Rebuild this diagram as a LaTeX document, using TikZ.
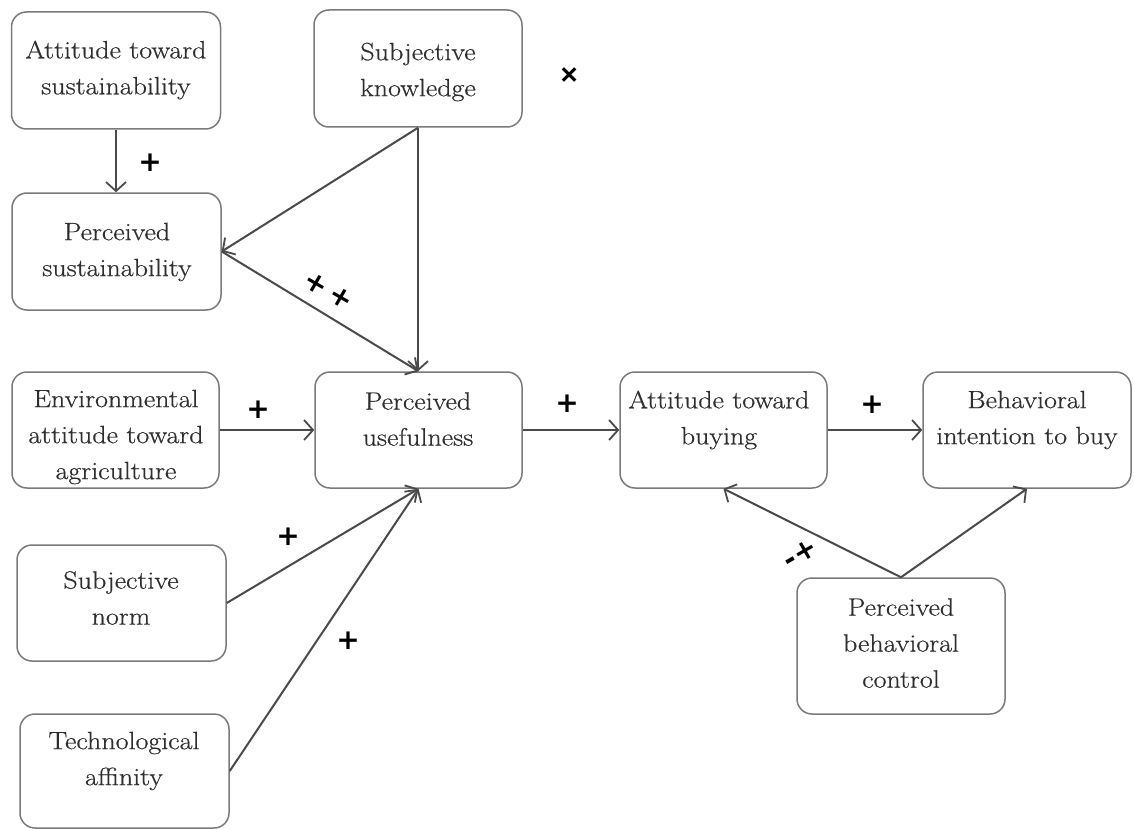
\documentclass[tikz,border=0pt]{standalone}
\usepackage{fontspec}
\newfontfamily\signfont{DejaVu Sans}
\newfontfamily\boxfont{Latin Modern Roman}[FakeStretch=1.12, FakeBold=0.5]
\usetikzlibrary{arrows.meta}
\definecolor{boxgray}{HTML}{7A7A7A}
\definecolor{textgray}{HTML}{2E2E2E}
\definecolor{linkgray}{HTML}{4A4A4A}
\begin{document}
\begin{tikzpicture}[x=1pt,y=-1pt,
  box/.style={draw=boxgray, line width=1.5pt, rounded corners=15pt, fill=white, inner sep=0pt},
  txt/.style={text=textgray, align=center, inner sep=0pt, font=\boxfont\fontsize{25}{36}\selectfont},
  link/.style={draw=linkgray, line width=2pt, -{Straight Barb[length=9pt,width=20pt,line width=1.8pt]}},
  sign/.style={font=\signfont\bfseries\fontsize{28}{28}\selectfont, inner sep=0pt, text=black}]
\useasboundingbox (0,0) rectangle (1134,829);
% boxes
\node[box, minimum width=209pt, minimum height=117pt] (ats) at (116,70.5) {};
\node[box, minimum width=208pt, minimum height=117pt] (sk)  at (418,68.5) {};
\node[box, minimum width=209pt, minimum height=117pt] (ps)  at (116.5,251.5) {};
\node[box, minimum width=207pt, minimum height=116pt] (eaa) at (115.5,430) {};
\node[box, minimum width=207pt, minimum height=116pt] (pu)  at (418.5,430) {};
\node[box, minimum width=207pt, minimum height=116pt] (atb) at (723.5,430) {};
\node[box, minimum width=208pt, minimum height=116pt] (bib) at (1027,430) {};
\node[box, minimum width=209pt, minimum height=116pt] (sn)  at (121.5,603) {};
\node[box, minimum width=209pt, minimum height=114pt] (ta)  at (124.5,771) {};
\node[box, minimum width=208pt, minimum height=136pt] (pbc) at (901,646) {};
% texts
\node[txt] (ats-t) at (116,70) {Attitude toward\\sustainability};
\node[txt] (sk-t)  at (418,72) {Subjective\\knowledge};
\node[txt] (ps-t)  at (117,252) {Perceived\\sustainability};
\node[txt] (eaa-t) at (116,437) {Environmental\\attitude toward\\agriculture};
\node[txt] (pu-t)  at (418,419) {Perceived\\usefulness};
\node[txt] (atb-t) at (719,420) {Attitude toward\\buying};
\node[txt] (bib-t) at (1027,420) {Behavioral\\intention to buy};
\node[txt] (sn-t)  at (121,598) {Subjective\\norm};
\node[txt] (ta-t)  at (124,761) {Technological\\affinity};
\node[txt] (pbc-t) at (901,643) {Perceived\\behavioral\\control};
% connectors
\draw[link] (ats.south) -- (ats.south |- ps.north);
\draw[link] (sk.south) -- (ps.east);
\draw[link] (sk.south) -- (sk.south |- pu.north);
\draw[link] (ps.east) -- (pu.north);
\draw[link] (eaa.east) -- (pu.west);
\draw[link] (sn.east) -- (pu.south);
\draw[link] (ta.east) -- (pu.south);
\draw[link] (pu.east) -- (atb.west);
\draw[link] (atb.east) -- (bib.west);
\draw[link] (pbc.north) -- (atb.south);
\draw[link] (pbc.north) -- (bib.south);
% signs
\node[sign] (s1) at (150,163) {+};
\node[sign, rotate=45] (s2) at (570,75) {+};
\node[sign, rotate=-30] (s3) at (328.5,290.5) {+\kern4.5pt+};
\node[sign] (s5) at (258,410) {+};
\node[sign] (s6) at (567,404) {+};
\node[sign] (s7) at (872,405) {+};
\node[sign] (s8) at (288,537) {+};
\node[sign] (s9) at (348,641) {+};
\node[sign, rotate=30] (s10) at (800,554) {-+};
\end{tikzpicture}
\end{document}
